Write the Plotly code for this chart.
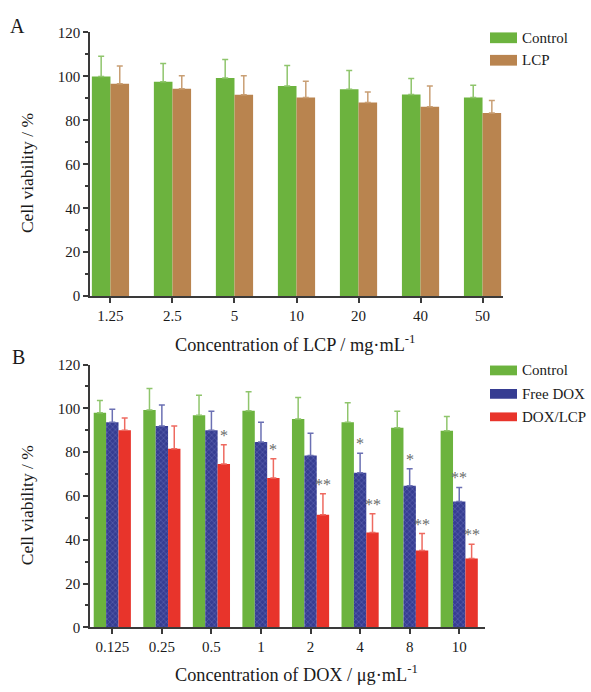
import plotly.graph_objects as go

W, H = 591, 692

# ---------- data ----------
lcp_conc = ["1.25", "2.5", "5", "10", "20", "40", "50"]
a_control = [100.0, 97.5, 99.3, 95.6, 94.1, 91.7, 90.4]
a_control_err = [109.2, 105.9, 107.7, 104.9, 102.7, 99.0, 96.0]
a_lcp = [96.6, 94.4, 91.6, 90.4, 88.1, 86.2, 83.3]
a_lcp_err = [104.7, 100.3, 100.3, 97.8, 92.9, 95.6, 89.0]

dox_conc = ["0.125", "0.25", "0.5", "1", "2", "4", "8", "10"]
b_control = [98.0, 99.2, 96.9, 98.9, 95.1, 93.7, 91.1, 89.8]
b_control_err = [103.6, 109.1, 106.0, 107.6, 105.0, 102.6, 98.7, 96.3]
b_free = [93.7, 92.0, 90.0, 84.6, 78.5, 70.6, 64.7, 57.5]
b_free_err = [99.6, 101.5, 98.7, 93.7, 88.6, 79.5, 72.4, 63.9]
b_free_sig = ["", "", "", "", "", "*", "*", "**"]
b_doxlcp = [90.0, 81.6, 74.6, 68.2, 51.4, 43.3, 35.1, 31.4]
b_doxlcp_err = [95.6, 91.9, 83.4, 77.0, 61.0, 51.9, 42.8, 37.9]
b_doxlcp_sig = ["", "", "*", "*", "**", "**", "**", "**"]

# ---------- styles ----------
GREEN, GREEN_E = "#6cb33e", "#8fc56c"
BROWN, BROWN_E = "#b9844f", "#c99f74"
BLUE, BLUE_FG, BLUE_E = "#363d92", "#5c63b0", "#6b70b3"
RED, RED_E = "#e8342b", "#ee6a60"
AXC = "#3a3a3a"
FONT = "Liberation Serif"


def up_err(vals, tops, color):
    return dict(type="data", symmetric=False,
                array=[t - v for v, t in zip(vals, tops)],
                arrayminus=[0] * len(vals),
                color=color, thickness=1.5, width=3)


fig = go.Figure()

# Panel A
fig.add_trace(go.Bar(x=lcp_conc, y=a_control, name="Control", xaxis="x", yaxis="y",
                     marker=dict(color=GREEN, line=dict(width=0)), width=0.3, offset=-0.3,
                     error_y=up_err(a_control, a_control_err, GREEN_E), showlegend=False))
fig.add_trace(go.Bar(x=lcp_conc, y=a_lcp, name="LCP", xaxis="x", yaxis="y",
                     marker=dict(color=BROWN, line=dict(width=0)), width=0.3, offset=0.0,
                     error_y=up_err(a_lcp, a_lcp_err, BROWN_E), showlegend=False))

# Panel B
fig.add_trace(go.Bar(x=dox_conc, y=b_control, name="Control", xaxis="x2", yaxis="y2",
                     marker=dict(color=GREEN, line=dict(width=0)), width=0.25, offset=-0.375,
                     error_y=up_err(b_control, b_control_err, GREEN_E), showlegend=False))
fig.add_trace(go.Bar(x=dox_conc, y=b_free, name="Free DOX", xaxis="x2", yaxis="y2",
                     marker=dict(color=BLUE, line=dict(width=0),
                                 pattern=dict(shape="x", fgcolor=BLUE_FG, bgcolor=BLUE,
                                              size=4, solidity=0.3, fillmode="replace")),
                     width=0.25, offset=-0.125,
                     error_y=up_err(b_free, b_free_err, BLUE_E), showlegend=False))
fig.add_trace(go.Bar(x=dox_conc, y=b_doxlcp, name="DOX/LCP", xaxis="x2", yaxis="y2",
                     marker=dict(color=RED, line=dict(width=0)), width=0.25, offset=0.125,
                     error_y=up_err(b_doxlcp, b_doxlcp_err, RED_E), showlegend=False))

annotations = []
# significance marks
for i, (s, t) in enumerate(zip(b_free_sig, b_free_err)):
    if s:
        annotations.append(dict(x=i, y=t, xref="x2", yref="y2", text=s, showarrow=False,
                                yanchor="bottom", yshift=-1,
                                font=dict(family=FONT, size=16, color="#6a6a6a")))
for i, (s, t) in enumerate(zip(b_doxlcp_sig, b_doxlcp_err)):
    if s:
        annotations.append(dict(x=i + 0.25, y=t, xref="x2", yref="y2", text=s, showarrow=False,
                                yanchor="bottom", yshift=-1,
                                font=dict(family=FONT, size=16, color="#6a6a6a")))


def px(x):
    return x / W


def py(y):
    return 1 - y / H


def txt(x, y, s, size, angle=0, xanchor="center"):
    annotations.append(dict(x=px(x), y=py(y), xref="paper", yref="paper", text=s,
                            showarrow=False, textangle=angle, xanchor=xanchor, yanchor="middle",
                            font=dict(family=FONT, size=size, color="#1a1a1a")))


# panel letters and axis titles
txt(17, 18, "A", 20)
txt(18, 357, "B", 20)
txt(27, 169, "Cell viability / %", 17.5, angle=-90)
txt(27, 509, "Cell viability / %", 17.5, angle=-90)
txt(295, 343, "Concentration of LCP / mg·mL<sup>-1</sup>", 18.3)
txt(296, 681, "Concentration of DOX / μg·mL<sup>-1</sup>", 18.3)

# manual legends
shapes = []


def legend_item(y0, y1, color, label):
    shapes.append(dict(type="rect", xref="paper", yref="paper",
                       x0=px(490), x1=px(517), y0=py(y1), y1=py(y0),
                       fillcolor=color, line=dict(width=0)))
    txt(520, (y0 + y1) / 2, label, 15, xanchor="left")


legend_item(25, 36, GREEN, "Control")
legend_item(48, 59, BROWN, "LCP")
legend_item(366, 376, GREEN, "Control")
legend_item(390, 400, BLUE, "Free DOX")
legend_item(414, 423, RED, "DOX/LCP")

axis_common = dict(showline=True, linecolor=AXC, linewidth=1.5, ticks="outside",
                   tickcolor=AXC, tickwidth=1.5, showgrid=False, zeroline=False,
                   tickfont=dict(family=FONT, size=15, color="#1a1a1a"))

fig.update_layout(
    width=W, height=H, margin=dict(l=0, r=0, t=0, b=0),
    paper_bgcolor="white", plot_bgcolor="white", barmode="overlay",
    xaxis=dict(domain=[px(90), px(503)], anchor="y", type="category",
               range=[-0.33, 6.33], ticklen=5, **axis_common),
    yaxis=dict(domain=[py(295), py(25)], anchor="x", range=[0, 120], dtick=20, ticklen=5,
               minor=dict(dtick=10, ticks="outside", ticklen=3, tickcolor=AXC, tickwidth=1.5),
               **axis_common),
    xaxis2=dict(domain=[px(90), px(485)], anchor="y2", type="category",
                range=[-0.45, 7.52], ticklen=5, **axis_common),
    yaxis2=dict(domain=[py(634), py(365)], anchor="x2", range=[0, 120], dtick=20, ticklen=5,
                minor=dict(dtick=10, ticks="outside", ticklen=3, tickcolor=AXC, tickwidth=1.5),
                **axis_common),
    annotations=annotations, shapes=shapes,
)

fig.write_html("out.html", config={"displayModeBar": False},
               post_script="document.body.style.margin='0';document.body.style.overflow='hidden';")
